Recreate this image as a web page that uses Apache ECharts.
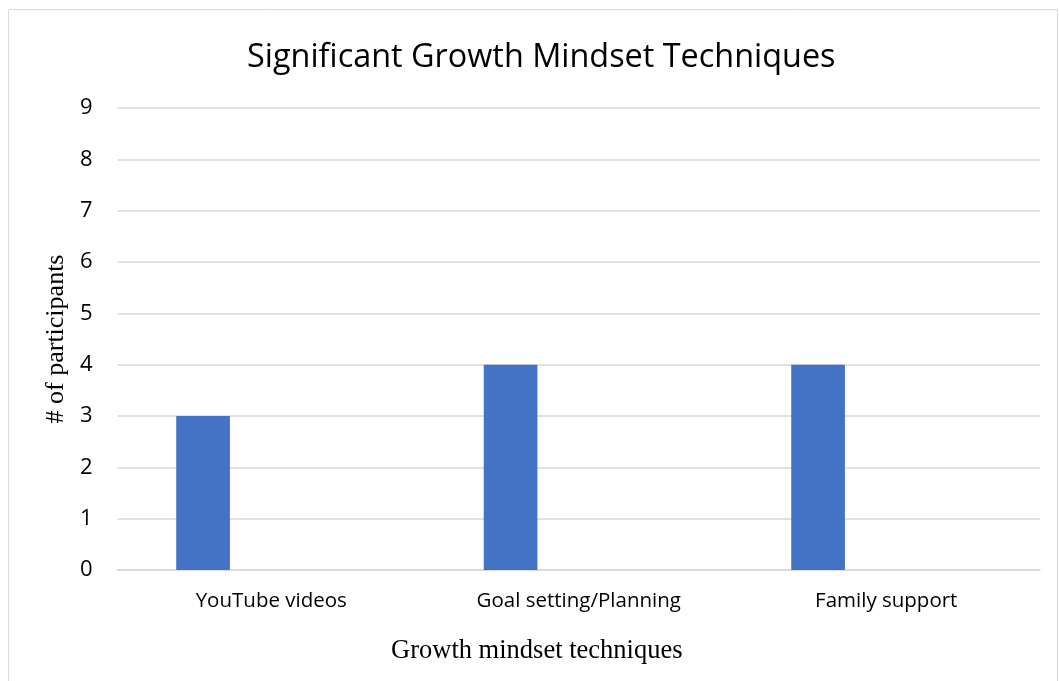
<!DOCTYPE html>
<html>
<head>
<meta charset="utf-8">
<script src="https://cdn.jsdelivr.net/npm/echarts@6/dist/echarts.min.js"></script>
<style>
  html, body { margin: 0; padding: 0; background: #fff; }
  #chart { width: 1059px; height: 681px; }
</style>
</head>
<body>
<div id="chart"></div>
<script>
// Techniques reported by participants
const categories = ['YouTube videos', 'Goal setting/Planning', 'Family support'];
// Participant counts (first series); the two further series in the cluster hold no values
const participants = [3, 4, 4];
const seriesB = [null, null, null];
const seriesC = [null, null, null];
// Value axis ticks
const yTicks = [0, 1, 2, 3, 4, 5, 6, 7, 8, 9];

const chart = echarts.init(document.getElementById('chart'), null, { renderer: 'canvas' });

const calibriLike = '"Open Sans", "Noto Sans", sans-serif';
const serif = '"Liberation Serif", "DejaVu Serif", serif';

chart.setOption({
  animation: false,
  backgroundColor: '#ffffff',
  title: {
    text: 'Significant Growth Mindset Techniques',
    left: 242,
    top: 37,
    textStyle: { fontFamily: calibriLike, fontSize: 32.4, fontWeight: 'normal', color: '#000' }
  },
  graphic: [{
    type: 'rect',
    shape: { x: 8.5, y: 9.5, width: 1049, height: 690 },
    style: { fill: 'none', stroke: '#d9d9d9', lineWidth: 1 },
    silent: true
  }],
  grid: { left: 117.5, right: 19, top: 108, bottom: 111, containLabel: false },
  xAxis: {
    type: 'category',
    data: categories,
    name: 'Growth mindset techniques',
    nameLocation: 'middle',
    nameGap: 68,
    // centre the axis title on the whole chart rather than the plot area
    nameTextStyle: { fontFamily: serif, fontSize: 26.5, color: '#000', padding: [0, 84, 0, 0] },
    axisLine: { show: true, lineStyle: { color: '#d9d9d9', width: 1.5 } },
    axisTick: { show: false },
    axisLabel: { fontFamily: calibriLike, fontSize: 20.5, color: '#000', margin: 21 }
  },
  yAxis: {
    type: 'value',
    min: yTicks[0],
    max: yTicks[yTicks.length - 1],
    interval: 1,
    name: '# of participants',
    nameLocation: 'middle',
    nameGap: 48,
    nameTextStyle: { fontFamily: serif, fontSize: 26, color: '#000' },
    axisLine: { show: false },
    axisTick: { show: false },
    axisLabel: { fontFamily: calibriLike, fontSize: 22, color: '#000', margin: 25 },
    splitLine: { lineStyle: { color: '#d9d9d9', width: 1.5 } }
  },
  series: [
    {
      type: 'bar',
      data: participants,
      barGap: '27%',
      barCategoryGap: '38.2%',
      itemStyle: { color: '#4472C4' }
    },
    { type: 'bar', data: seriesB, itemStyle: { color: '#ED7D31' } },
    { type: 'bar', data: seriesC, itemStyle: { color: '#A5A5A5' } }
  ]
});
</script>
</body>
</html>
